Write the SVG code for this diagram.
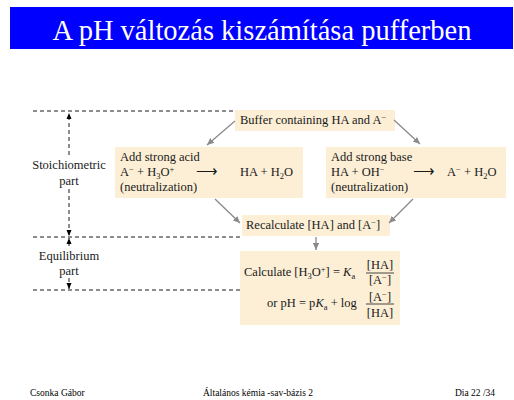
<svg xmlns="http://www.w3.org/2000/svg" width="514" height="400" viewBox="0 0 514 400" font-family="'Liberation Serif', 'Times New Roman', serif">
<defs>
<marker id="ga" markerWidth="8" markerHeight="8" refX="7" refY="4" orient="auto" markerUnits="userSpaceOnUse">
<path d="M0,0.8 L7,4 L0,7.2 Z" fill="#8a8a8a"/>
</marker>
<marker id="ba" markerWidth="8" markerHeight="8" refX="6" refY="3" orient="auto" markerUnits="userSpaceOnUse">
<path d="M0,0.5 L6,3 L0,5.5 Z" fill="#000"/>
</marker>
</defs>
<style>
text{font-family:'Liberation Serif','Times New Roman',serif;fill:#1a1a1a}
.t{font-family:'Liberation Serif','Times New Roman',serif;font-size:12.5px}
.sm{font-size:8.5px}
.box{fill:#fcefd6}
.dash{stroke:#000;stroke-width:0.9;stroke-dasharray:4,3;fill:none}
.g{stroke:#8a8a8a;stroke-width:1.3;fill:none;marker-end:url(#ga)}
.foot{font-family:'Liberation Serif','Times New Roman',serif;font-size:9.5px;fill:#000}
</style>
<rect width="514" height="400" fill="#fff"/>
<g id="title">
<rect x="10" y="7" width="503" height="42" fill="#0000ff"/>
<text x="262" y="40" text-anchor="middle" font-family="'Liberation Serif', serif" font-size="28.5" fill="#fff" style="fill:#fff">A pH változás kiszámítása pufferben</text>
</g>
<g id="guides">
<line class="dash" x1="33" y1="111" x2="233" y2="111"/>
<line class="dash" x1="33" y1="237" x2="240" y2="237"/>
<line class="dash" x1="33" y1="290" x2="240" y2="290"/>
<line class="dash" x1="69" y1="155" x2="69" y2="113" marker-end="url(#ba)"/>
<line class="dash" x1="69" y1="189" x2="69" y2="236" marker-end="url(#ba)"/>
<line class="dash" x1="69" y1="246" x2="69" y2="238" marker-end="url(#ba)"/>
<line class="dash" x1="69" y1="278" x2="69" y2="289" marker-end="url(#ba)"/>
<text class="t" x="69" y="169" text-anchor="middle">Stoichiometric</text>
<text class="t" x="69" y="185" text-anchor="middle">part</text>
<text class="t" x="69" y="260" text-anchor="middle">Equilibrium</text>
<text class="t" x="69" y="275" text-anchor="middle">part</text>
</g>
<g id="buffer">
<rect class="box" x="235" y="110" width="160" height="21"/>
<text class="t" x="240" y="124">Buffer containing HA and A<tspan class="sm" dy="-4">−</tspan></text>
</g>
<g id="acid">
<rect class="box" x="115" y="147" width="188" height="51"/>
<text class="t" x="120" y="161">Add strong acid</text>
<text class="t" x="120" y="176">A<tspan class="sm" dy="-4">−</tspan><tspan dy="4"> + H</tspan><tspan class="sm" dy="3">3</tspan><tspan dy="-3">O</tspan><tspan class="sm" dy="-4">+</tspan></text>
<text class="t" x="196" y="176" style="font-size:15px">⟶</text>
<text class="t" x="240" y="176">HA + H<tspan class="sm" dy="3">2</tspan><tspan dy="-3">O</tspan></text>
<text class="t" x="120" y="191">(neutralization)</text>
</g>
<g id="base">
<rect class="box" x="326" y="147" width="180" height="51"/>
<text class="t" x="331" y="161">Add strong base</text>
<text class="t" x="331" y="176">HA + OH<tspan class="sm" dy="-4">−</tspan></text>
<text class="t" x="413" y="176" style="font-size:15px">⟶</text>
<text class="t" x="447" y="176">A<tspan class="sm" dy="-4">−</tspan><tspan dy="4"> + H</tspan><tspan class="sm" dy="3">2</tspan><tspan dy="-3">O</tspan></text>
<text class="t" x="331" y="191">(neutralization)</text>
</g>
<g id="recalc">
<rect class="box" x="242" y="215" width="148" height="21"/>
<text class="t" x="246" y="229">Recalculate [HA] and [A<tspan class="sm" dy="-4">−</tspan><tspan dy="4">]</tspan></text>
</g>
<g id="calc">
<rect class="box" x="240" y="251" width="160" height="74"/>
<text class="t" x="244" y="276">Calculate [H<tspan class="sm" dy="3">3</tspan><tspan dy="-3">O</tspan><tspan class="sm" dy="-4">+</tspan><tspan dy="4">] = </tspan><tspan font-style="italic">K</tspan><tspan class="sm" dy="3">a</tspan></text>
<text class="t" x="380" y="269" text-anchor="middle">[HA]</text>
<line x1="366" y1="273" x2="394" y2="273" stroke="#1a1a1a" stroke-width="0.8"/>
<text class="t" x="380" y="284" text-anchor="middle">[A<tspan class="sm" dy="-4">−</tspan><tspan dy="4">]</tspan></text>
<text class="t" x="267" y="307">or pH = p<tspan font-style="italic">K</tspan><tspan class="sm" dy="3">a</tspan><tspan dy="-3"> + log</tspan></text>
<text class="t" x="380" y="301" text-anchor="middle">[A<tspan class="sm" dy="-4">−</tspan><tspan dy="4">]</tspan></text>
<line x1="366" y1="304" x2="394" y2="304" stroke="#1a1a1a" stroke-width="0.8"/>
<text class="t" x="380" y="317" text-anchor="middle">[HA]</text>
</g>
<g id="connectors">
<line class="g" x1="235" y1="121" x2="207" y2="145"/>
<line class="g" x1="394" y1="120" x2="420" y2="144"/>
<line class="g" x1="215" y1="199" x2="240" y2="223"/>
<line class="g" x1="413" y1="199" x2="389" y2="223"/>
<line class="g" x1="316" y1="237" x2="316" y2="250"/>
</g>
<g id="footer">
<text class="foot" x="30" y="396">Csonka Gábor</text>
<text class="foot" x="203" y="396">Általános kémia -sav-bázis  2</text>
<text class="foot" x="455" y="396">Dia 22 /34</text>
</g>
</svg>
